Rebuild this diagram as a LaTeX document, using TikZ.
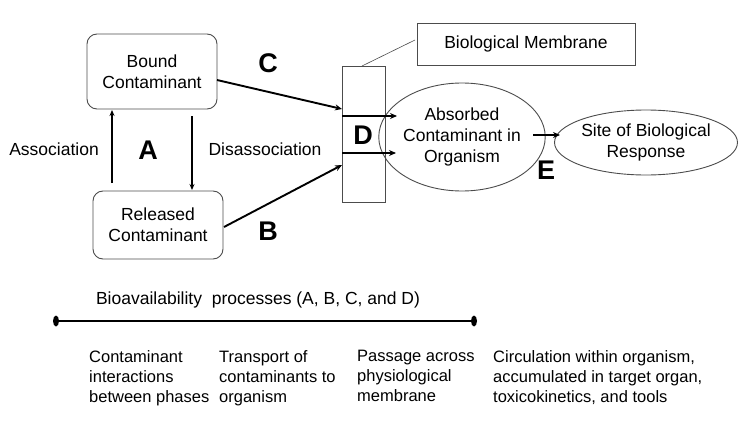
\documentclass[tikz,border=0pt]{standalone}
\usepackage{fontspec}
\setmainfont{Liberation Sans}
\usetikzlibrary{arrows.meta,shapes.geometric}
\begin{document}
\begin{tikzpicture}[x=1pt,y=-1pt,
  every node/.style={font=\fontsize{17.5}{21}\selectfont},
  rbox/.style={draw=black!70,line width=0.9pt,rounded corners=10pt,minimum width=130pt,minimum height=74pt,align=center,inner sep=0pt},
  plainbox/.style={draw=black!70,line width=0.9pt,inner sep=0pt},
  ell/.style={draw=black!70,line width=0.9pt,ellipse,inner sep=0pt,align=center},
  big/.style={font=\fontsize{27}{30}\bfseries\selectfont},
  arr/.style={line width=1.9pt,-{Stealth[length=7pt,width=6pt]}},
  thinarr/.style={line width=1.6pt,-{Stealth[length=6pt,width=5pt]}},
  small/.style={font=\fontsize{16.5}{20}\selectfont,align=left,anchor=north west,inner sep=0pt}
]
\useasboundingbox (0,0) rectangle (741,428);
% boxes
\node[rbox,minimum width=130pt,minimum height=75pt] (bound) at (152,71.5) {Bound\\Contaminant};
\node[rbox,minimum width=130pt,minimum height=68pt] (rel) at (158,225) {Released\\Contaminant};
\node[plainbox,minimum width=43pt,minimum height=136pt] (mem) at (363.5,134) {};
\node[plainbox,minimum width=218pt,minimum height=42pt] (bm) at (526,44) {Biological Membrane};
\node[ell,minimum width=142pt,minimum height=108pt] (abs) at (462,137) {Absorbed\\Contaminant in\\Organism};
\node[ell,minimum width=174pt,minimum height=65pt] (site) at (646,142.5) {Site of Biological\\Response};
% labels
\node (lassoc) at (54,149) {Association};
\node (ldis) at (265,149) {Disassociation};
\node[big] (lA) at (148,150) {A};
\node[big] (lB) at (268,231) {B};
\node[big] (lC) at (268,63) {C};
\node[big] (lD) at (363,135) {D};
\node[big] (lE) at (546,170) {E};
% coordinates
\coordinate (assocS) at (112,183);
\coordinate (assocE) at (112,110);
\coordinate (disS) at (192,116);
\coordinate (disE) at (192,190);
\coordinate (cS) at (217,80);
\coordinate (cE) at (342,109);
\coordinate (bS) at (224,227);
\coordinate (bE) at (342,165);
\coordinate (m1) at (342,116);
\coordinate (a1) at (397,116);
\coordinate (m2) at (342,153);
\coordinate (a2) at (396,153);
\coordinate (eS) at (533,135);
\coordinate (eE) at (560,135);
\coordinate (memtop) at (362,66);
\coordinate (bmleft) at (415,40);
% arrows
\draw[thinarr] (assocS) -- (assocE);
\draw[thinarr] (disS) -- (disE);
\draw[arr] (cS) -- (cE);
\draw[arr] (bS) -- (bE);
\draw[arr] (m1) -- (a1);
\draw[arr] (m2) -- (a2);
\draw[arr] (eS) -- (eE);
\draw[black!70,line width=0.6pt] (memtop) -- (bmleft);
% bottom
\node (bio) at (258,300) {Bioavailability\ \ processes (A, B, C, and D)};
\coordinate (lL) at (56,321);
\coordinate (lR) at (474,321);
\draw[line width=2.4pt] (lL) -- (lR);
\fill (lL) ellipse [x radius=3pt, y radius=5.5pt];
\fill (lR) ellipse [x radius=3pt, y radius=5.5pt];
\node[small] (t1) at (89,350) {Contaminant\\interactions\\between phases};
\node[small] (t2) at (219,350) {Transport of\\contaminants to\\organism};
\node[small] (t3) at (357,350) {Passage across\\physiological\\membrane};
\node[small] (t4) at (493,350) {Circulation within organism,\\accumulated in target organ,\\toxicokinetics, and tools};
\end{tikzpicture}
\end{document}
